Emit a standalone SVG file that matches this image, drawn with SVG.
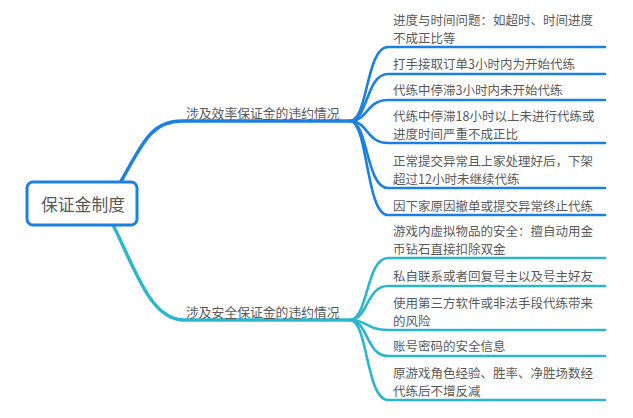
<svg xmlns="http://www.w3.org/2000/svg" width="633" height="418" viewBox="0 0 633 418">
<style>
text{font-family:"Noto Sans CJK SC","Noto Sans",sans-serif;fill:#5a5a5a;dominant-baseline:central}
.leaf{font-size:12.5px}
.br{font-size:12.8px}
.b{fill:none;stroke:#1b80e0;stroke-linecap:round}
.c{fill:none;stroke:#2ab6cd;stroke-linecap:round}
.main{stroke-width:3.4}
.sub{stroke-width:2.6}
</style>
<rect width="633" height="418" fill="#ffffff"/>
<g id="connectors">
<path class="b main" d="M120,183 C142,145 150,121 182,121 L350,121"/>
<path class="c main" d="M113,225 C135,268 150,320 184,320 L350,320"/>
<path class="b sub" d="M350,121 C368,121 366,47 388,47 L605,47"/>
<path class="b sub" d="M350,121 C368,121 366,74 388,74 L605,74"/>
<path class="b sub" d="M350,121 C368,121 366,100 388,100 L605,100"/>
<path class="b sub" d="M350,121 C368,121 366,143 388,143 L605,143"/>
<path class="b sub" d="M350,121 C368,121 366,188 388,188 L605,188"/>
<path class="b sub" d="M350,121 C368,121 366,215 388,215 L605,215"/>
<path class="c sub" d="M350,320 C368,320 366,258 388,258 L605,258"/>
<path class="c sub" d="M350,320 C368,320 366,286 388,286 L605,286"/>
<path class="c sub" d="M350,320 C368,320 366,330 388,330 L605,330"/>
<path class="c sub" d="M350,320 C368,320 366,356 388,356 L605,356"/>
<path class="c sub" d="M350,320 C368,320 366,400 388,400 L605,400"/>
</g>
<g id="root">
<rect x="27" y="182" width="110" height="43" rx="6" fill="#ffffff" stroke="#1b80e0" stroke-width="3"/>
<text x="83" y="204" text-anchor="middle" style="font-size:16.8px">保证金制度</text>
</g>
<g id="branch-efficiency"><text class="br" x="186" y="112">涉及效率保证金的违约情况</text></g>
<g id="branch-safety"><text class="br" x="186" y="311">涉及安全保证金的违约情况</text></g>
<g id="leaf1"><text class="leaf" x="393" y="19.5">进度与时间问题：如超时、时间进度</text><text class="leaf" x="393" y="37.5">不成正比等</text></g>
<g id="leaf2"><text class="leaf" x="393" y="63">打手接取订单3小时内为开始代练</text></g>
<g id="leaf3"><text class="leaf" x="393" y="89">代练中停滞3小时内未开始代练</text></g>
<g id="leaf4"><text class="leaf" x="393" y="115.5">代练中停滞18小时以上未进行代练或</text><text class="leaf" x="393" y="133.5">进度时间严重不成正比</text></g>
<g id="leaf5"><text class="leaf" x="393" y="160.5">正常提交异常且上家处理好后，下架</text><text class="leaf" x="393" y="178.5">超过12小时未继续代练</text></g>
<g id="leaf6"><text class="leaf" x="393" y="205">因下家原因撤单或提交异常终止代练</text></g>
<g id="leaf7"><text class="leaf" x="393" y="230">游戏内虚拟物品的安全：擅自动用金</text><text class="leaf" x="393" y="248">币钻石直接扣除双金</text></g>
<g id="leaf8"><text class="leaf" x="393" y="275">私自联系或者回复号主以及号主好友</text></g>
<g id="leaf9"><text class="leaf" x="393" y="302">使用第三方软件或非法手段代练带来</text><text class="leaf" x="393" y="320">的风险</text></g>
<g id="leaf10"><text class="leaf" x="393" y="345">账号密码的安全信息</text></g>
<g id="leaf11"><text class="leaf" x="393" y="372">原游戏角色经验、胜率、净胜场数经</text><text class="leaf" x="393" y="390">代练后不增反减</text></g>
</svg>
